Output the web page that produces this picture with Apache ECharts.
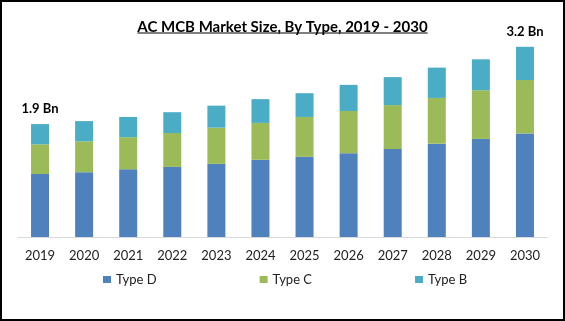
<!DOCTYPE html>
<html>
<head>
<meta charset="utf-8">
<script src="https://cdn.jsdelivr.net/npm/echarts@6/dist/echarts.min.js"></script>
<style>
  html, body { margin: 0; padding: 0; background: #fff; }
  #chart { width: 565px; height: 321px; }
</style>
</head>
<body>
<div id="chart"></div>
<script>
// AC MCB market size by type, values in USD billion
const years = ['2019', '2020', '2021', '2022', '2023', '2024', '2025', '2026', '2027', '2028', '2029', '2030'];
const typeD = [1.06, 1.09, 1.14, 1.18, 1.23, 1.30, 1.35, 1.41, 1.48, 1.57, 1.65, 1.74];
const typeC = [0.50, 0.52, 0.54, 0.57, 0.61, 0.62, 0.67, 0.71, 0.74, 0.77, 0.82, 0.90];
const typeB = [0.34, 0.34, 0.34, 0.35, 0.37, 0.40, 0.40, 0.44, 0.47, 0.51, 0.52, 0.56];
const titleText = 'AC MCB Market Size, By Type, 2019 - 2030';

const totals = years.map((_, i) => typeD[i] + typeC[i] + typeB[i]);
const labelled = [0, years.length - 1];

const W = 565, H = 321;
const titleFont = 'bold 15px Lato';
const ctx = document.createElement('canvas').getContext('2d');
ctx.font = titleFont;
const titleW = ctx.measureText(titleText).width;

const chart = echarts.init(document.getElementById('chart'), null, { renderer: 'canvas' });

chart.setOption({
  animation: false,
  backgroundColor: '#ffffff',
  title: {
    text: titleText,
    left: 'center',
    top: 15,
    textStyle: { fontFamily: 'Lato', fontWeight: 'bold', fontSize: 15, color: '#000' }
  },
  graphic: [
    {
      type: 'line',
      shape: { x1: (W - titleW) / 2, y1: 33, x2: (W + titleW) / 2, y2: 33 },
      style: { stroke: '#000', lineWidth: 1 }
    },
    {
      type: 'rect',
      shape: { x: 1, y: 1, width: W - 2, height: H - 2 },
      style: { fill: 'none', stroke: '#000', lineWidth: 2 },
      z: 100
    }
  ],
  legend: {
    left: 103,
    top: 273,
    padding: 0,
    itemWidth: 8,
    itemHeight: 7,
    itemGap: 103,
    icon: 'rect',
    textStyle: { fontFamily: 'Lato', fontSize: 13, color: '#222' },
    data: ['Type D', 'Type C', 'Type B']
  },
  grid: { left: 18, right: 18, top: 29, bottom: 84, containLabel: false },
  xAxis: {
    type: 'category',
    data: years,
    axisLine: { lineStyle: { color: '#d9d9d9', width: 1 } },
    axisTick: { show: false },
    axisLabel: { fontFamily: 'Lato', fontSize: 13, color: '#222', margin: 12 }
  },
  yAxis: {
    type: 'value',
    min: 0,
    max: 3.5,
    show: false,
    splitLine: { show: false }
  },
  series: [
    {
      name: 'Type D', type: 'bar', stack: 'total', barWidth: 18,
      itemStyle: { color: '#4F81BD' }, data: typeD
    },
    {
      name: 'Type C', type: 'bar', stack: 'total', barWidth: 18,
      itemStyle: { color: '#9BBB59' }, data: typeC
    },
    {
      name: 'Type B', type: 'bar', stack: 'total', barWidth: 18,
      itemStyle: { color: '#4BACC6' }, data: typeB,
      label: {
        show: true,
        position: 'top',
        distance: 9,
        fontFamily: 'Lato',
        fontWeight: 'bold',
        fontSize: 13,
        color: '#000',
        formatter: p => labelled.includes(p.dataIndex) ? totals[p.dataIndex].toFixed(1) + ' Bn' : ''
      }
    }
  ]
});
</script>
</body>
</html>
